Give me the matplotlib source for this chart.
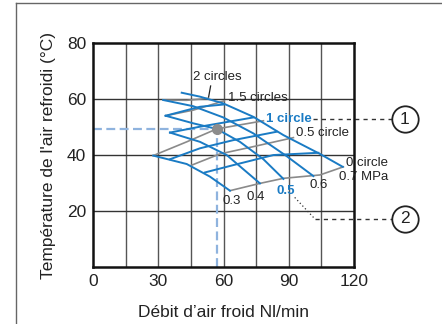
import matplotlib.pyplot as plt
from matplotlib.lines import Line2D

plt.rcParams['font.family'] = ['Liberation Sans', 'DejaVu Sans']

blue = '#1a7bc4'
grey = '#8a8a8a'
ink = '#222222'

# pressure lines (blue, descending)
p07_x = [40.7, 49.1, 59.8, 73.7, 87.5, 104.3, 114.8]
p07_y = [62.2, 60.8, 58.4, 53.6, 47.1, 40.4, 35.8]
p06_x = [32.2, 46.0, 59.8, 73.7, 89.0, 101.3]
p06_y = [59.6, 57.4, 53.4, 47.7, 39.6, 32.5]
p05_x = [33.3, 46.0, 56.8, 67.5, 78.3, 87.5]
p05_y = [54.0, 51.3, 49.3, 44.7, 38.5, 31.5]
p04_x = [35.3, 49.1, 61.4, 76.7]
p04_y = [48.0, 44.7, 40.0, 29.9]
p03_x = [27.6, 43.0, 53.7, 62.9]
p03_y = [39.8, 36.8, 32.3, 27.3]

# needle turn lines (ascending)
c0_x = [62.9, 76.7, 87.5, 104.3, 115.1]
c0_y = [27.3, 29.9, 31.7, 32.9, 35.8]
c025_x = [51.4, 64.4, 82.9, 103.6]
c025_y = [33.8, 36.4, 40.0, 40.8]
c05_x = [45.3, 58.3, 73.7, 92.1]
c05_y = [36.4, 40.4, 43.0, 46.2]
c075_x = [35.3, 49.1, 64.4, 84.4]
c075_y = [38.5, 42.4, 45.3, 48.3]
c1_x = [27.6, 43.0, 56.8, 78.3]
c1_y = [39.8, 44.7, 49.3, 52.2]
c125_x = [35.3, 49.1, 73.7]
c125_y = [48.0, 50.1, 53.4]
c15_x = [33.3, 46.0, 60.2]
c15_y = [54.0, 56.0, 59.3]
c175_x = [33.3, 49.1, 60.0]
c175_y = [54.0, 57.2, 58.0]
c2_x = [32.2, 43.0, 52.9]
c2_y = [59.6, 59.5, 60.2]

point_x, point_y = 56.8, 49.3

fig = plt.figure(figsize=(4.42, 3.24), dpi=100)
ax = fig.add_axes([0.211, 0.175, 0.590, 0.693])

# outer frame of the figure
fig.add_artist(Line2D([0.0355, 0.0355], [0, 0.992], color='#666666', lw=1))
fig.add_artist(Line2D([0.0355, 1.0], [0.992, 0.992], color='#666666', lw=1))

ax.set_xlim(0, 120)
ax.set_ylim(0, 80)
for gx in range(15, 120, 15):
    ax.axvline(gx, color='#555555', lw=1, zorder=1)
for gy in (20, 40, 60):
    ax.axhline(gy, color='#333333', lw=1, zorder=1)
for s in ax.spines.values():
    s.set_linewidth(1.8)
    s.set_color('#111111')

ax.set_xticks([0, 30, 60, 90, 120])
ax.set_yticks([20, 40, 60, 80])
ax.tick_params(length=0, labelsize=12.5, colors=ink, pad=5)
ax.set_xlabel('Débit d’air froid Nl/min', fontsize=12.5, color=ink, labelpad=11)
ax.set_ylabel('Température de l\'air refroidi (°C)', fontsize=12.5, color=ink, labelpad=8)

for xs, ys in [(c0_x, c0_y), (c05_x, c05_y), (c1_x, c1_y), (c15_x, c15_y), (c2_x, c2_y)]:
    ax.plot(xs, ys, color=grey, lw=1.2, zorder=3)
for xs, ys in [(c025_x, c025_y), (c075_x, c075_y), (c125_x, c125_y), (c175_x, c175_y)]:
    ax.plot(xs, ys, color=blue, lw=1.4, zorder=4)
for xs, ys in [(p03_x, p03_y), (p04_x, p04_y), (p05_x, p05_y), (p06_x, p06_y), (p07_x, p07_y)]:
    ax.plot(xs, ys, color=blue, lw=1.4, zorder=4)

# reading example
ax.plot([0, point_x], [point_y, point_y], color='#8fb3de', lw=1.6, ls=(0, (4, 2)), zorder=2)
ax.plot([point_x, point_x], [0, point_y], color='#8fb3de', lw=1.6, ls=(0, (4, 2)), zorder=2)
ax.plot(point_x, point_y, 'o', color='#8c8c8c', ms=7, zorder=6)

fs = 9.5
ax.text(57.1, 67.7, '2 circles', fontsize=fs, color=ink, ha='center', va='center')
ax.plot([54.0, 52.9], [64.6, 59.9], color=ink, lw=0.9)
ax.text(62.1, 60.4, '1.5 circles', fontsize=fs, color=ink, ha='left', va='center')
ax.text(79.7, 52.7, '1 circle', fontsize=fs, color=blue, ha='left', va='center', fontweight='bold')
ax.text(93.5, 47.7, '0.5 circle', fontsize=fs, color=ink, ha='left', va='center')
ax.text(116.2, 37.3, '0 circle', fontsize=fs, color=ink, ha='left', va='center')
ax.text(113.1, 32.3, '0.7 MPa', fontsize=fs, color=ink, ha='left', va='center')
ax.text(99.3, 29.3, '0.6', fontsize=fs, color=ink, ha='left', va='center')
ax.text(84.3, 27.3, '0.5', fontsize=fs, color=blue, ha='left', va='center', fontweight='bold')
ax.text(70.5, 25.2, '0.4', fontsize=fs, color=ink, ha='left', va='center')
ax.text(59.5, 23.7, '0.3', fontsize=fs, color=ink, ha='left', va='center')

# callouts
ax.plot([101.2, 137.5], [52.8, 52.8], color='#333333', lw=1, ls=(0, (3, 3)), clip_on=False)
ax.plot([92.7, 101.9], [24.9, 17.3], color='#333333', lw=0.9, ls=(0, (1, 2)), clip_on=False)
ax.plot([101.9, 137.5], [17.3, 17.3], color='#333333', lw=1, ls=(0, (3, 3)), clip_on=False)
for cy, num in [(52.8, '1'), (17.3, '2')]:
    ax.plot(143.3, cy, 'o', ms=19, mfc='white', mec=ink, mew=1.3, clip_on=False, zorder=7)
    ax.text(143.3, cy, num, fontsize=12.5, color=ink, ha='center', va='center', zorder=8)

fig.savefig('out.png', dpi=100)
